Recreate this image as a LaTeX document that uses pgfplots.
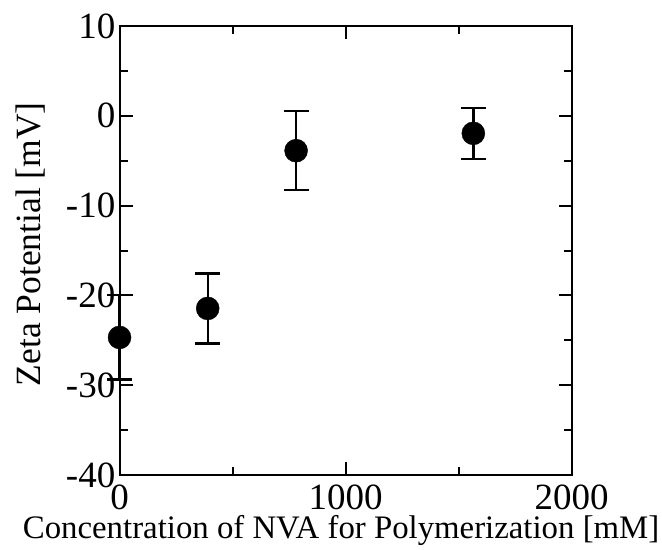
\documentclass[border=0pt]{standalone}
\usepackage{fontspec}
\setmainfont{Liberation Serif}
\usepackage{pgfplots}
\pgfplotsset{compat=1.18}
\usetikzlibrary{calc}
\begin{document}
\begin{tikzpicture}
\begin{axis}[name=ax, scale only axis, width=452bp, height=449bp,
  xmin=0, xmax=2000, ymin=-40, ymax=10,
  xtick={0,1000,2000}, minor xtick={500,1500},
  ytick={-40,-30,...,10}, minor ytick={-35,-25,...,5},
  tick align=inside, major tick length=13bp, minor tick length=8bp,
  tick style={line width=2bp, black},
  axis line style={line width=2bp},
  /pgf/number format/assume math mode=true,
  /pgf/number format/1000 sep={},
  ticklabel style={font=\fontsize{37bp}{39bp}\selectfont, inner sep=0pt},
  xticklabel style={yshift=-10bp},
  yticklabel style={xshift=-4bp},
  xlabel={Concentration of NVA for Polymerization [mM]},
  xlabel style={font=\fontsize{32.8bp}{34bp}\selectfont, at={(axis description cs:0.49,-0.14)}, anchor=base, inner sep=0pt},
  ylabel={Zeta Potential [mV]},
  ylabel style={font=\fontsize{35.5bp}{37bp}\selectfont, at={(axis description cs:-0.174,0.514)}, anchor=base, inner sep=0pt},
  clip=false]
\addplot[only marks, mark=*, mark size=11.5bp, black,
  error bars/.cd, y dir=both, y explicit,
  error bar style={line width=2.4bp, black},
  error mark options={rotate=90, mark size=12.5bp, line width=2.4bp, black}]
  coordinates {
  (0,-24.67) +- (0,4.7)
  (390,-21.44) +- (0,3.9)
  (781,-3.88) +- (0,4.4)
  (1565,-1.95) +- (0,2.85)
  };
\end{axis}
\pgfresetboundingbox
\path ($(ax.south west)+(-119.5bp,-74bp)$) rectangle ($(ax.north east)+(90.3bp,26bp)$);
\end{tikzpicture}
\end{document}
